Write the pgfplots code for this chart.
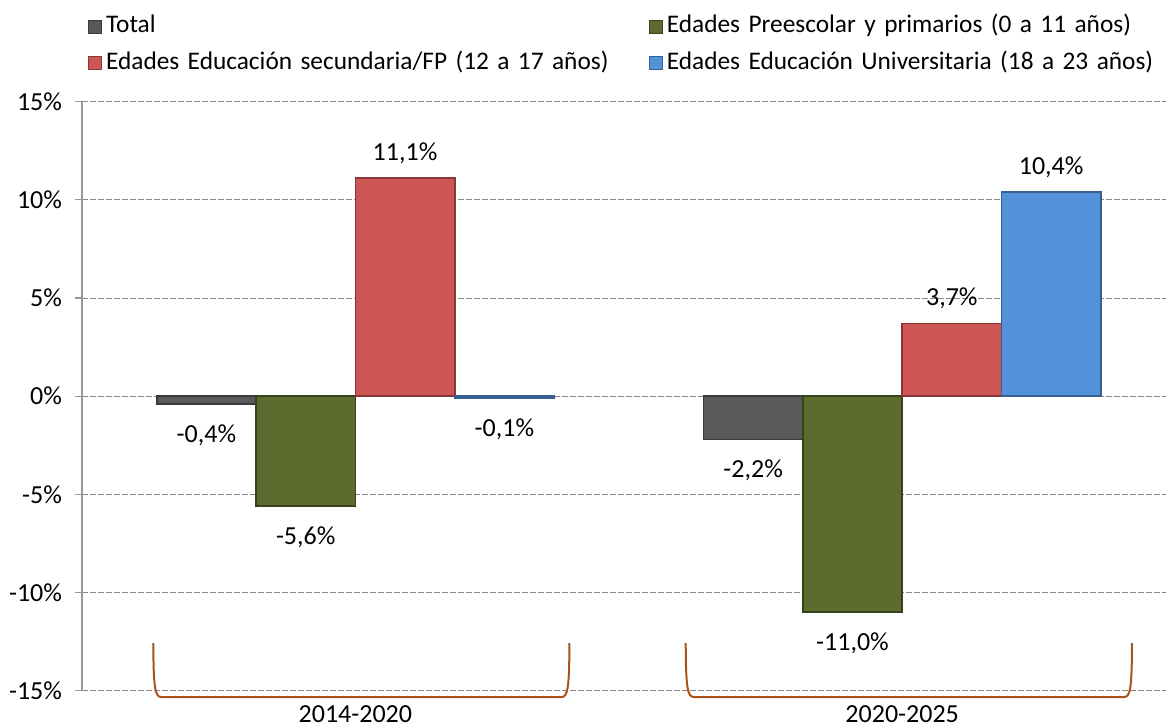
\documentclass[border=0pt]{standalone}
\usepackage{fontspec}
\setmainfont{Carlito}
\usepackage{pgfplots}
\pgfplotsset{compat=1.18}
\usetikzlibrary{calc}

\definecolor{cTotal}{RGB}{89,89,89}
\definecolor{cPre}{RGB}{91,108,46}
\definecolor{cSec}{RGB}{205,86,84}
\definecolor{cUni}{RGB}{85,146,220}
\definecolor{brk}{RGB}{168,84,24}
\definecolor{gridc}{RGB}{134,134,134}
\definecolor{axc}{RGB}{150,150,150}

\pgfplotsset{
  sq legend/.style={legend image code/.code={
    \draw[##1,line width=0.6pt] (0pt,-4.9pt) rectangle (9.75pt,4.9pt);}},
}

\begin{document}
\begin{tikzpicture}
\begin{axis}[
  scale only axis,
  width=813pt, height=441.75pt,
  font=\fontsize{19.5}{23.4}\selectfont,
  ybar=0pt, bar width=74.5pt,
  xmin=0.5, xmax=2.4826,
  ymin=-15, ymax=15,
  ytick={-15,-10,...,15},
  yticklabel={\pgfmathprintnumber[assume math mode=true]{\tick}\%},
  yticklabel style={xshift=-6.25pt},
  xtick={1,2},
  xticklabels={2014-2020,2020-2025},
  xticklabel style={yshift=-2.5pt},
  axis line style={draw=none},
  ytick pos=left,
  tick align=outside,
  major tick length=5.25pt,
  ytick style={axc, line width=0.9pt},
  xtick style={draw=none},
  ymajorgrids,
  grid style={gridc, dash pattern=on 4.5pt off 1.5pt, line width=0.75pt},
  clip=false,
  nodes near coords={\pgfmathprintnumber[fixed,fixed zerofill,precision=1,use comma,assume math mode=true]{\pgfplotspointmeta}\%},
  every node near coord/.append style={black, inner xsep=0pt, inner ysep=12.8pt, text height=15.4pt, text depth=0pt},
  legend columns=2,
  legend style={draw=none, fill=none, inner sep=0pt, column sep=1.5pt, row sep=6pt,
    font=\fontsize{19}{22.8}\selectfont,
    at={(0,1)}, anchor=north west, xshift=4.5pt, yshift=67.4pt,
    nodes={inner sep=1.5pt, text width=404.25pt, align=left, text height=14pt, text depth=4.5pt}},
  legend cell align=left,
]
\addplot[fill=cTotal, draw=cTotal!65!black, line width=1.2pt, sq legend] coordinates {(1,-0.4) (2,-2.2)};
\addlegendentry{Total}
\addplot[fill=cPre, draw=cPre!60!black, line width=1.2pt, sq legend] coordinates {(1,-5.6) (2,-11.0)};
\addlegendentry{Edades Preescolar y primarios (0 a 11 años)}
\addplot[fill=cSec, draw=cSec!65!black, line width=1.2pt, sq legend] coordinates {(1,11.1) (2,3.7)};
\addlegendentry{Edades Educación secundaria/FP (12 a 17 años)}
\addplot[fill=cUni, draw=cUni!65!black, line width=1.2pt, sq legend] coordinates {(1,-0.1) (2,10.4)};
\addlegendentry{Edades Educación Universitaria (18 a 23 años)}

\draw[axc, line width=1.1pt] (rel axis cs:0,0) -- (rel axis cs:0,1);
\draw[brk, line width=1.5pt] (axis cs:0.6305,-12.57) .. controls (axis cs:0.6305,-14.9) and (axis cs:0.634,-15.32) .. (axis cs:0.645,-15.32)
  -- (axis cs:1.377,-15.32) .. controls (axis cs:1.388,-15.32) and (axis cs:1.3914,-14.9) .. (axis cs:1.3914,-12.57);
\draw[brk, line width=1.5pt] (axis cs:1.6042,-12.57) .. controls (axis cs:1.6042,-14.9) and (axis cs:1.608,-15.32) .. (axis cs:1.619,-15.32)
  -- (axis cs:2.406,-15.32) .. controls (axis cs:2.417,-15.32) and (axis cs:2.4203,-14.9) .. (axis cs:2.4203,-12.57);
\coordinate (tl) at (rel axis cs:0,1);
\coordinate (br) at (rel axis cs:1,0);
\end{axis}
\pgfresetboundingbox
\path[use as bounding box] ($(tl)+(-61.5pt,76.3pt)$) rectangle ($(br)+(0pt,-27.2pt)$);
\end{tikzpicture}
\end{document}
